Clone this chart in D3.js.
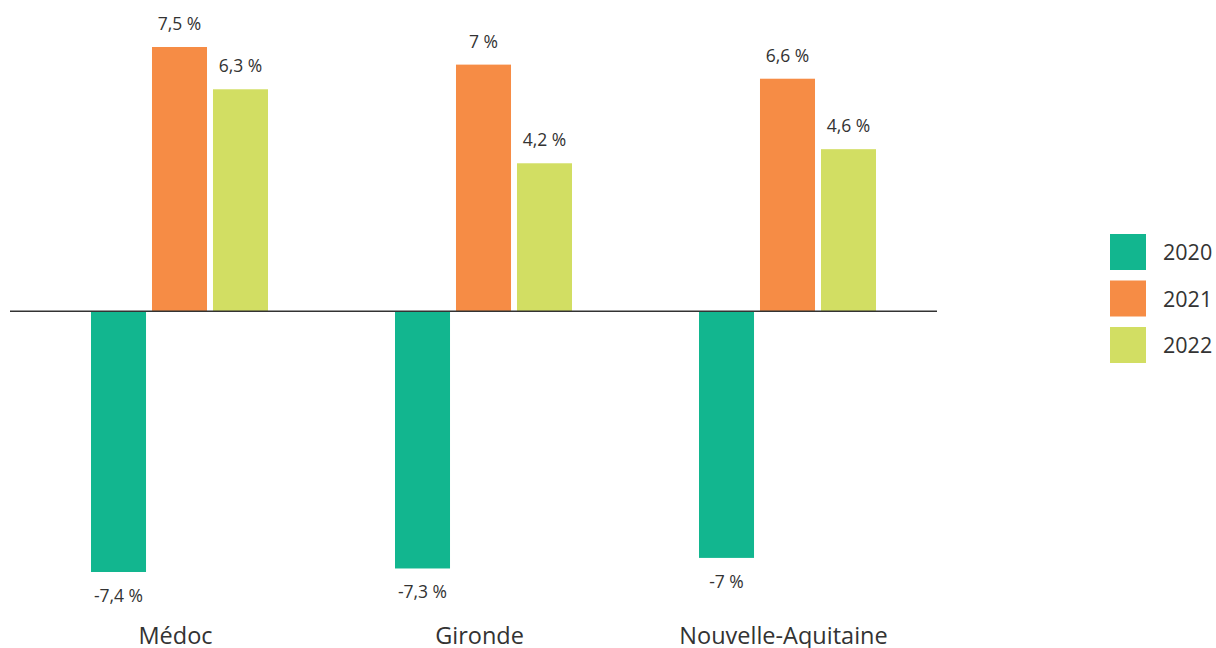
<!DOCTYPE html>
<html>
<head>
<meta charset="utf-8">
<script src="https://cdn.jsdelivr.net/npm/d3@7"></script>
<style>
  body { margin: 0; background: #fff; }
  text { font-family: "Open Sans", "Noto Sans", sans-serif; fill: #333; }
</style>
</head>
<body>
<svg id="chart" width="1216" height="648"></svg>
<script>
// data
const regions = ["Médoc", "Gironde", "Nouvelle-Aquitaine"];
const years = ["2020", "2021", "2022"];
const values2020 = [-7.4, -7.3, -7];
const values2021 = [7.5, 7, 6.6];
const values2022 = [6.3, 4.2, 4.6];
const yearColors = ["#12b68f", "#f68c45", "#d2de63"];

const series = [values2020, values2021, values2022];
const rows = [];
regions.forEach((r, i) => {
  years.forEach((y, j) => rows.push({ region: r, year: y, value: series[j][i] }));
});

let svg = d3.select("#chart");

let x0 = d3.scaleBand().domain(regions).range([27.5, 939.5]);
let x1 = d3.scaleBand().domain(years).range([-88.5, 88.5]).paddingInner(0.098);
let y = d3.scaleLinear().domain([-7.4, 7.5]).range([572, 47]);
let color = d3.scaleOrdinal().domain(years).range(yearColors);

let fmt = (v) => String(v).replace(".", ",") + " %";

let groupCenter = (r) => x0(r) + x0.bandwidth() / 2;

// bars
svg.append("g")
  .selectAll("rect")
  .data(rows)
  .enter().append("rect")
  .attr("x", (d) => groupCenter(d.region) + x1(d.year))
  .attr("width", x1.bandwidth())
  .attr("y", (d) => y(Math.max(0, d.value)))
  .attr("height", (d) => Math.abs(y(d.value) - y(0)))
  .attr("fill", (d) => color(d.year));

// value labels
svg.append("g")
  .selectAll("text")
  .data(rows)
  .enter().append("text")
  .attr("x", (d) => groupCenter(d.region) + x1(d.year) + x1.bandwidth() / 2)
  .attr("y", (d) => d.value >= 0 ? y(d.value) - 17 : y(d.value) + 30)
  .attr("text-anchor", "middle")
  .style("font-size", "17.5px")
  .text((d) => fmt(d.value));

// zero line
svg.append("line")
  .attr("x1", 10).attr("x2", 937)
  .attr("y1", y(0)).attr("y2", y(0))
  .attr("stroke", "#333")
  .attr("stroke-width", 1.5);

// category labels
svg.append("g")
  .selectAll("text")
  .data(regions)
  .enter().append("text")
  .attr("x", (d) => groupCenter(d) - 4)
  .attr("y", 644)
  .attr("text-anchor", "middle")
  .style("font-size", "23.5px")
  .text((d) => d);

// legend
let legend = svg.append("g")
  .attr("transform", "translate(1110,234)")
  .selectAll("g")
  .data(years)
  .enter().append("g")
  .attr("transform", (d, i) => "translate(0," + i * 46.5 + ")");

legend.append("rect")
  .attr("width", 36)
  .attr("height", 36)
  .attr("fill", (d) => color(d));

legend.append("text")
  .attr("x", 53)
  .attr("y", 26)
  .style("font-size", "21.5px")
  .text((d) => d);
</script>
</body>
</html>
